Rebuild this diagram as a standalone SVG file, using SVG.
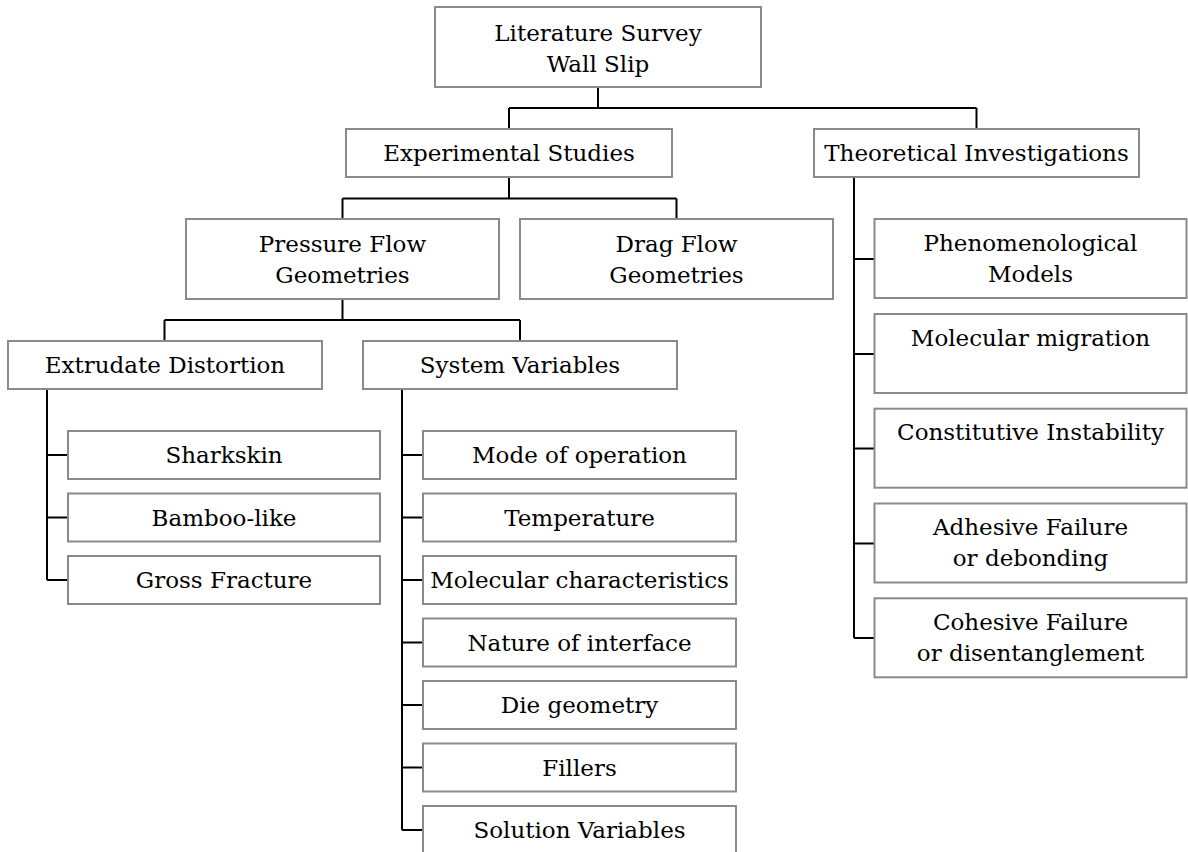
<svg xmlns="http://www.w3.org/2000/svg" width="1188" height="852" viewBox="0 0 1188 852">
<style>
rect.n{fill:#fff;stroke:#8a8a8a;stroke-width:2}
text{font-family:"DejaVu Serif","Liberation Serif",serif;font-size:23px;fill:#000;text-anchor:middle}
#connectors path{fill:none;stroke:#000;stroke-width:2}
</style>
<rect width="1188" height="852" fill="#fff"/>
<g id="connectors">
<path d="M598 87V108M509 108H976.5M509 108V129M976.5 108V129"/>
<path d="M509 177V198.5M342.5 198.5H676.5M342.5 198.5V219M676.5 198.5V219"/>
<path d="M342.5 299V320M164.5 320H520M164.5 320V341M520 320V341"/>
<path d="M47 389V580M47 455H68M47 517.5H68M47 580H68"/>
<path d="M402 389V830M402 455H423M402 517.5H423M402 580H423M402 642.5H423M402 705H423M402 767.5H423M402 830H423"/>
<path d="M854 177V638M854 259H874.5M854 354H874.5M854 448.5H874.5M854 543.5H874.5M854 638H874.5"/>
</g>
<g id="root"><rect class="n" x="435" y="7" width="326" height="80"/><text x="598" y="40.5">Literature Survey</text><text x="598" y="72">Wall Slip</text></g>
<g id="experimental"><rect class="n" x="346" y="129" width="326" height="48"/><text x="509" y="161">Experimental Studies</text></g>
<g id="theoretical"><rect class="n" x="814" y="129" width="325" height="48"/><text x="976.5" y="161">Theoretical Investigations</text></g>
<g id="pressure"><rect class="n" x="186" y="219" width="313" height="80"/><text x="342.5" y="251.5">Pressure Flow</text><text x="342.5" y="282.5">Geometries</text></g>
<g id="drag"><rect class="n" x="520" y="219" width="313" height="80"/><text x="676.5" y="251.5">Drag Flow</text><text x="676.5" y="282.5">Geometries</text></g>
<g id="extrudate"><rect class="n" x="8" y="341" width="314" height="48"/><text x="165" y="373">Extrudate Distortion</text></g>
<g id="sysvar"><rect class="n" x="363" y="341" width="314" height="48"/><text x="520" y="373">System Variables</text></g>
<g id="sharkskin"><rect class="n" x="68" y="431" width="312" height="48"/><text x="224" y="463">Sharkskin</text></g>
<g id="bamboo"><rect class="n" x="68" y="493.5" width="312" height="48"/><text x="224" y="525.5">Bamboo-like</text></g>
<g id="gross"><rect class="n" x="68" y="556" width="312" height="48"/><text x="224" y="588">Gross Fracture</text></g>
<g id="mode"><rect class="n" x="423" y="431" width="313" height="48"/><text x="579.5" y="463">Mode of operation</text></g>
<g id="temperature"><rect class="n" x="423" y="493.5" width="313" height="48"/><text x="579.5" y="525.5">Temperature</text></g>
<g id="molchar"><rect class="n" x="423" y="556" width="313" height="48"/><text x="579.5" y="588">Molecular characteristics</text></g>
<g id="nature"><rect class="n" x="423" y="618.5" width="313" height="48"/><text x="579.5" y="650.5">Nature of interface</text></g>
<g id="die"><rect class="n" x="423" y="681" width="313" height="48"/><text x="579.5" y="713">Die geometry</text></g>
<g id="fillers"><rect class="n" x="423" y="743.5" width="313" height="48"/><text x="579.5" y="775.5">Fillers</text></g>
<g id="solution"><rect class="n" x="423" y="806" width="313" height="48"/><text x="579.5" y="838">Solution Variables</text></g>
<g id="phenom"><rect class="n" x="874.5" y="219" width="312" height="79"/><text x="1030.5" y="251">Phenomenological</text><text x="1030.5" y="282">Models</text></g>
<g id="molmig"><rect class="n" x="874.5" y="314" width="312" height="79"/><text x="1030.5" y="345.5">Molecular migration</text></g>
<g id="constitutive"><rect class="n" x="874.5" y="408.7" width="312" height="79"/><text x="1030.5" y="440.2">Constitutive Instability</text></g>
<g id="adhesive"><rect class="n" x="874.5" y="503.5" width="312" height="79"/><text x="1030.5" y="535">Adhesive Failure</text><text x="1030.5" y="565.5">or debonding</text></g>
<g id="cohesive"><rect class="n" x="874.5" y="598.3" width="312" height="79"/><text x="1030.5" y="630">Cohesive Failure</text><text x="1030.5" y="660.5">or disentanglement</text></g>
</svg>
